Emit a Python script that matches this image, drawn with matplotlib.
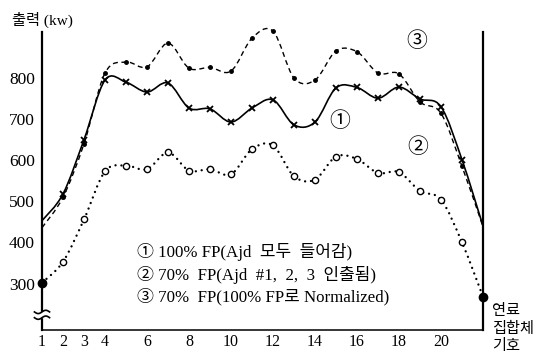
import numpy as np
import matplotlib
matplotlib.use('Agg')
import matplotlib.pyplot as plt
from matplotlib.path import Path
from matplotlib.patches import PathPatch, Rectangle

plt.rcParams['font.family'] = ['Liberation Serif', 'Noto Sans CJK KR']

# fuel assembly number (x) and output in kW for the three cases
assembly = list(range(1, 23))
full_fp = [453, 518, 650, 795, 790, 766, 788, 727, 725, 693, 727,
           747, 686, 693, 776, 777, 751, 778, 749, 730, 601, 440]
fp70 = [302, 353, 456, 573, 587, 578, 619, 575, 578, 566, 627,
        636, 561, 553, 609, 603, 569, 571, 525, 504, 400, 268]
fp70_norm = [436, 510, 640, 812, 839, 827, 885, 824, 826, 817, 897,
             914, 800, 795, 866, 864, 812, 810, 742, 714, 585, 438]

xtick_pos = [1, 2, 3, 4, 6, 8, 10, 12, 14, 16, 18, 20]
ytick_pos = [300, 400, 500, 600, 700, 800]
legend_lines = ['① 100% FP(Ajd  모두  들어감)',
                '② 70%  FP(Ajd  #1,  2,  3  인출됨)',
                '③ 70%  FP(100% FP로 Normalized)']


def smooth_path(xs, ys):
    # catmull-rom through the points, written as cubic bezier pieces
    pts = np.column_stack([xs, ys]).astype(float)
    ext = np.vstack([pts[0], pts, pts[-1]])
    verts = [pts[0]]
    codes = [Path.MOVETO]
    for i in range(len(pts) - 1):
        p0, p1, p2, p3 = ext[i], ext[i + 1], ext[i + 2], ext[i + 3]
        verts += [p1 + (p2 - p0) / 6, p2 - (p3 - p1) / 6, p2]
        codes += [Path.CURVE4] * 3
    return Path(verts, codes)


fig = plt.figure(figsize=(5.44, 3.58), dpi=100)
ax = fig.add_axes([0.0772, 0.0782, 0.8107, 0.8324])
ax.set_xlim(1, 22)
ax.set_ylim(187, 912)

# curves
ax.add_patch(PathPatch(smooth_path(assembly, full_fp), fill=False, lw=1.2,
                       color='black', clip_on=False))
ax.add_patch(PathPatch(smooth_path(assembly, fp70_norm), fill=False, lw=1.0,
                       color='black', linestyle=(0, (3.6, 2.6)), clip_on=False))
ax.add_patch(PathPatch(smooth_path(assembly, fp70), fill=False, lw=1.7,
                       color='black', linestyle=(0, (0.01, 2.5)),
                       capstyle='round', clip_on=False))

# markers
ax.plot(assembly[1:-1], full_fp[1:-1], ls='none', marker='x', ms=4.5,
        mew=1.3, color='black', clip_on=False)
ax.plot(assembly[1:-1], fp70_norm[1:-1], ls='none', marker='o', ms=2.5,
        color='black', clip_on=False)
ax.plot(assembly[1:-1], fp70[1:-1], ls='none', marker='o', ms=4.5, mew=1.0,
        mfc='white', mec='black', clip_on=False, zorder=4)
ax.plot([assembly[0], assembly[-1]], [fp70[0], fp70[-1]], ls='none',
        marker='o', ms=6, color='black', clip_on=False, zorder=5)

# axes look
ax.spines['top'].set_visible(False)
ax.spines['left'].set_linewidth(1.6)
ax.spines['right'].set_linewidth(1.6)
ax.spines['bottom'].set_linewidth(1.1)
ax.set_xticks(xtick_pos)
ax.set_xticklabels([str(v) for v in xtick_pos], fontsize=11.5)
ax.set_yticks(ytick_pos)
ax.set_yticklabels([str(v) for v in ytick_pos], fontsize=12.5)
ax.tick_params(axis='both', length=0)
ax.tick_params(axis='x', pad=3)
ax.tick_params(axis='y', pad=5)

# axis break on the left
ax.add_patch(Rectangle((0.8, 218), 0.4, 12, color='white', zorder=6,
                       clip_on=False, transform=ax.transData))
t = np.linspace(-1, 1, 30)
for yb in [231, 217]:
    ax.plot(1 + 0.36 * t, yb + 4 * np.sin(np.pi * t), color='black', lw=1.2,
            clip_on=False, zorder=7)

# labels
ax.text(18.86, 888, '③', fontsize=15, ha='center', va='center')
ax.text(15.19, 693, '①', fontsize=15, ha='center', va='center')
ax.text(18.9, 630, '②', fontsize=15, ha='center', va='center')
for k, line in enumerate(legend_lines):
    ax.text(5.5, 376 - 54 * k, line, fontsize=12.2, ha='left', va='center')

ax.text(22.43, 250, '연료\n집합체\n기호', fontsize=11, ha='left', va='top',
        linespacing=1.3, clip_on=False)
fig.text(12 / 544, 1 - 20 / 358, '출력 (kw)', fontsize=11, ha='left',
         va='center')

fig.savefig('out.png', dpi=100)
